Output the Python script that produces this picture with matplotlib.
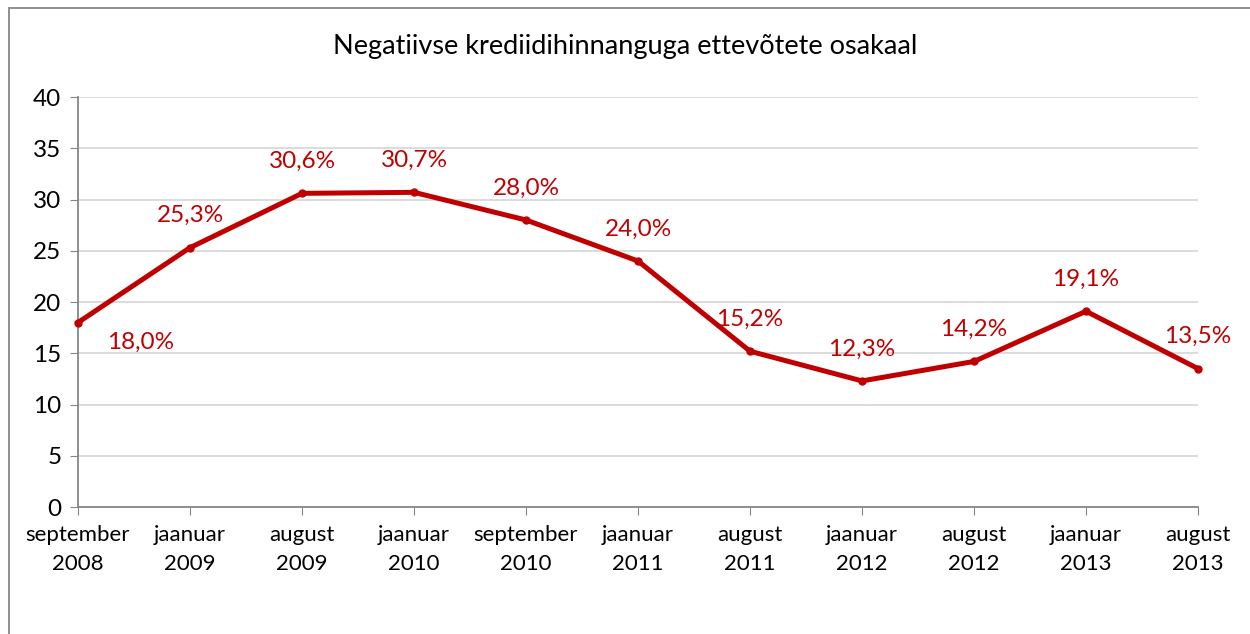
import matplotlib
matplotlib.use('Agg')
import matplotlib.pyplot as plt
from matplotlib.patches import Rectangle

plt.rcParams['font.family'] = ['Lato', 'DejaVu Sans']

months = ['september', 'jaanuar', 'august', 'jaanuar', 'september', 'jaanuar',
          'august', 'jaanuar', 'august', 'jaanuar', 'august']
years = ['2008', '2009', '2009', '2010', '2010', '2011',
         '2011', '2012', '2012', '2013', '2013']
values = [18.0, 25.3, 30.6, 30.7, 28.0, 24.0, 15.2, 12.3, 14.2, 19.1, 13.5]

red = '#C00000'
grey = '#868686'

fig = plt.figure(figsize=(12.5, 6.34), dpi=100)
ax = fig.add_axes([0.0624, 0.2003, 0.896, 0.6467])

x = list(range(len(values)))
ax.plot(x, values, color=red, lw=3.6, marker='o', ms=5, zorder=3, clip_on=False)

for i, v in enumerate(values):
    lab = f'{v:.1f}'.replace('.', ',') + '%'
    if i == 0:
        off = (45, -14)
    else:
        off = (0, 23)
    ax.annotate(lab, (i, v), xytext=off, textcoords='offset points',
                ha='center', va='center', color=red, fontsize=17.5)

ax.set_xlim(0, len(values) - 1)
ax.set_ylim(0, 40)
ax.set_yticks(range(0, 41, 5))
ax.set_xticks(x)
ax.set_xticklabels([f'{m}\n{y}' for m, y in zip(months, years)], fontsize=16,
                   linespacing=1.55)
ax.tick_params(axis='y', labelsize=17.5, length=6, color=grey, pad=6)
ax.tick_params(axis='x', length=6, color=grey, pad=7)
ax.grid(axis='y', color='#D9D9D9', lw=1.3)
ax.set_axisbelow(True)
for s in ['top', 'right']:
    ax.spines[s].set_visible(False)
for s in ['left', 'bottom']:
    ax.spines[s].set_color(grey)
    ax.spines[s].set_linewidth(1.3)
ax.spines['bottom'].set_zorder(4)

fig.text(0.5, 0.926, 'Negatiivse krediidihinnanguga ettevõtete osakaal',
         ha='center', va='center', fontsize=19.5)

fig.patches.append(Rectangle((9 / 1250, -0.05), 1.2, 1 - 8 / 634 + 0.05,
                             transform=fig.transFigure, fill=False,
                             edgecolor=grey, lw=1.3))

fig.savefig('out.png', dpi=100)
